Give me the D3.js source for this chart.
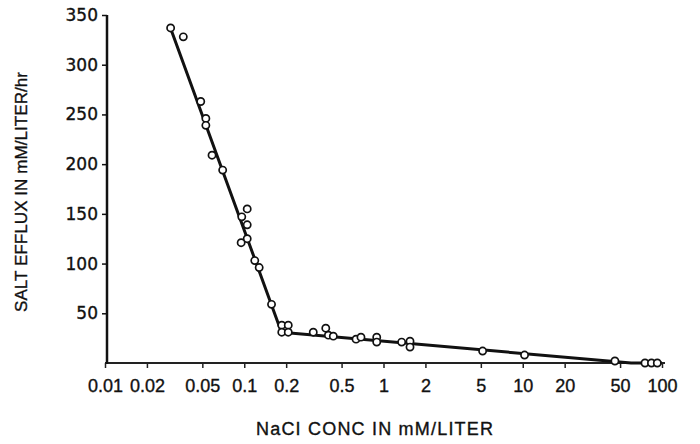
<!DOCTYPE html>
<html>
<head>
<meta charset="utf-8">
<script src="https://cdn.jsdelivr.net/npm/d3@7"></script>
<style>
  body { margin: 0; background: #fff; }
  svg { display: block; }
  .tick text { fill: #111; }
  text { stroke: #111; stroke-width: 0.35px; }
</style>
</head>
<body>
<div id="chart"></div>
<script>
// measured points (NaCl conc, salt efflux)
var conc = [0.0296, 0.0365, 0.0487, 0.053, 0.053, 0.0587, 0.070,
            0.105, 0.096, 0.105, 0.105, 0.095, 0.119, 0.128, 0.157,
            0.186, 0.207, 0.186, 0.207, 0.313, 0.385, 0.402, 0.436,
            0.635, 0.689, 0.894, 0.894, 1.35, 1.55, 1.55, 5.15, 10.3,
            45.9, 75.5, 84, 92.5];
var efflux = [337, 328, 263, 246, 239, 209, 194,
              155, 147, 139, 125, 121, 103, 96, 59,
              38, 38, 31, 31, 31, 35, 28, 27,
              24, 26, 26, 21, 21, 22, 16, 12, 8,
              2, 0, 0, 0];

// fitted two-segment line
var lineConc = [0.029, 0.185, 60, 100];
var lineEfflux = [340, 31, 0, 0];

var xTicks = [0.01, 0.02, 0.05, 0.1, 0.2, 0.5, 1, 2, 5, 10, 20, 50, 100];
var xTickLabels = ["0.01", "0.02", "0.05", "0.1", "0.2", "0.5", "1", "2", "5", "10", "20", "50", "100"];
var yTicks = [50, 100, 150, 200, 250, 300, 350];

var width = 700, height = 444;

var svg = d3.select("#chart").append("svg")
    .attr("width", width)
    .attr("height", height);

var x = d3.scaleLog().domain([0.01, 100]).range([105, 662]);
var y = d3.scaleLinear().domain([0, 350]).range([363, 15]);

// x axis
var xAxis = svg.append("g")
    .attr("transform", "translate(0," + y(0) + ")")
    .call(d3.axisBottom(x)
        .tickValues(xTicks)
        .tickFormat(function (d, i) { return xTickLabels[i]; })
        .tickSize(5)
        .tickSizeOuter(0));
xAxis.select(".domain").remove();
xAxis.append("line")
    .attr("x1", x(0.01)).attr("x2", 665)
    .attr("stroke", "#222").attr("stroke-width", 2);
xAxis.selectAll(".tick line").attr("stroke", "#222").attr("stroke-width", 1.5);
xAxis.selectAll(".tick text")
    .attr("y", 29).attr("dy", null)
    .style("font-family", "'Liberation Sans', Arial, sans-serif")
    .style("font-size", "18px");

// y axis
var yAxis = svg.append("g")
    .attr("transform", "translate(" + 107 + ",0)")
    .call(d3.axisLeft(y)
        .tickValues(yTicks)
        .tickSize(5)
        .tickPadding(4)
        .tickSizeOuter(0));
yAxis.select(".domain").remove();
yAxis.append("line")
    .attr("y1", y(0) + 1).attr("y2", y(350))
    .attr("stroke", "#111").attr("stroke-width", 2.5);
yAxis.selectAll(".tick line").attr("stroke", "#111").attr("stroke-width", 1.5);
yAxis.selectAll(".tick text")
    .style("font-family", "'DejaVu Sans', sans-serif")
    .style("font-size", "17px");

// axis titles
svg.append("text")
    .attr("x", 256).attr("y", 435)
    .attr("textLength", 237).attr("lengthAdjust", "spacing")
    .style("font-family", "'Liberation Sans', Arial, sans-serif")
    .style("font-size", "18px")
    .attr("fill", "#111")
    .text("NaCI CONC IN mM/LITER");

svg.append("text")
    .attr("transform", "translate(27,312) rotate(-90)")
    .attr("textLength", 240).attr("lengthAdjust", "spacing")
    .style("font-family", "'Liberation Sans', Arial, sans-serif")
    .style("font-size", "17px")
    .attr("fill", "#111")
    .text("SALT EFFLUX IN mM/LITER/hr");

// fitted line
var fit = lineConc.map(function (c, i) { return [c, lineEfflux[i]]; });
svg.append("path")
    .datum(fit)
    .attr("fill", "none")
    .attr("stroke", "#111")
    .attr("stroke-width", 3)
    .attr("stroke-linejoin", "round")
    .attr("d", d3.line()
        .x(function (d) { return x(d[0]); })
        .y(function (d) { return y(d[1]); }));

// data points
svg.append("g").selectAll("circle")
    .data(conc)
    .enter().append("circle")
    .attr("cx", function (d) { return x(d); })
    .attr("cy", function (d, i) { return y(efflux[i]); })
    .attr("r", 3.6)
    .attr("fill", "#fff")
    .attr("stroke", "#111")
    .attr("stroke-width", 1.7);
</script>
</body>
</html>
